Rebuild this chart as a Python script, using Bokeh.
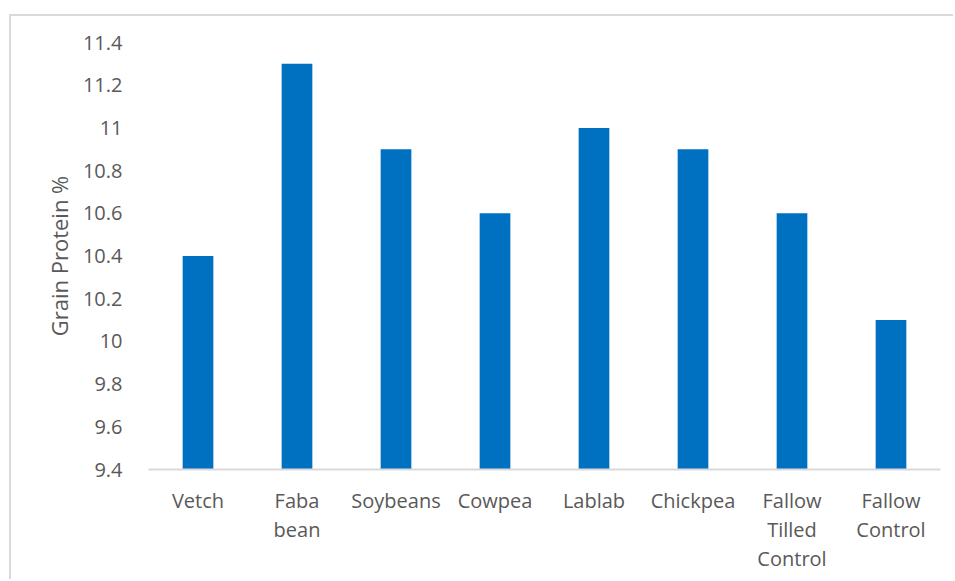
from bokeh.plotting import figure
from bokeh.models import Range1d, FixedTicker, ColumnDataSource, LinearAxis
from bokeh.embed import file_html
from bokeh.resources import INLINE

categories = ["Vetch", "Faba bean", "Soybeans", "Cowpea", "Lablab", "Chickpea",
              "Fallow Tilled Control", "Fallow Control"]
tick_labels = ["Vetch", "Faba\nbean", "Soybeans", "Cowpea", "Lablab", "Chickpea",
               "Fallow\nTilled\nControl", "Fallow\nControl"]
protein = [10.4, 11.3, 10.9, 10.6, 11.0, 10.9, 10.6, 10.1]
y_ticks = [9.4, 9.6, 9.8, 10.0, 10.2, 10.4, 10.6, 10.8, 11.0, 11.2, 11.4]
y_tick_labels = ["9.4", "9.6", "9.8", "10", "10.2", "10.4", "10.6", "10.8", "11", "11.2", "11.4"]

FONT = "Open Sans"
GREY = "#595959"
Y_MIN, Y_MAX = y_ticks[0], y_ticks[-1]

# category positions along a numeric axis
pos = list(range(1, len(categories) + 1))
source = ColumnDataSource(data=dict(x=pos, cat=categories, val=protein))

p = figure(x_range=Range1d(0.5, len(categories) + 0.5), y_range=Range1d(Y_MIN, Y_MAX),
           width=944, height=565, output_backend="svg", toolbar_location=None,
           min_border_left=137, min_border_right=15, min_border_top=26, min_border_bottom=112)
p.margin = (14, 0, 0, 9)
p.styles = {"border-top": "2px solid #d9d9d9", "border-left": "2px solid #d9d9d9"}

p.vbar(x="x", top="val", bottom=Y_MIN, width=0.31, source=source,
       fill_color="#0070c0", line_color=None)

p.outline_line_color = None
p.xgrid.grid_line_color = None
p.ygrid.grid_line_color = None

p.yaxis.ticker = FixedTicker(ticks=y_ticks)
p.yaxis.major_label_overrides = {t: l for t, l in zip(y_ticks, y_tick_labels)}
p.yaxis.axis_line_color = None
p.yaxis.major_tick_line_color = None
p.yaxis.minor_tick_line_color = None
p.yaxis.major_label_standoff = 20
p.yaxis.major_label_text_font = FONT
p.yaxis.major_label_text_font_size = "20px"
p.yaxis.major_label_text_color = GREY
p.yaxis.axis_label = "Grain Protein %"
p.yaxis.axis_label_text_font = FONT
p.yaxis.axis_label_text_font_size = "22px"
p.yaxis.axis_label_text_font_style = "normal"
p.yaxis.axis_label_text_color = GREY
p.yaxis.axis_label_standoff = 6

# split multi-line category labels into one axis per line
lines = [lab.split("\n") for lab in tick_labels]
n_lines = max(len(l) for l in lines)


def style_axis(ax, idx):
    ax.ticker = FixedTicker(ticks=pos)
    ax.minor_tick_line_color = None
    ax.major_tick_line_color = None
    ax.major_label_text_font = FONT
    ax.major_label_text_font_size = "20px"
    ax.major_label_text_color = GREY
    ax.major_label_overrides = {x: (l[idx] if idx < len(l) else " ")
                                for x, l in zip(pos, lines)}


xa = p.xaxis[0]
xa.axis_line_color = "#d9d9d9"
xa.axis_line_width = 2
xa.major_label_standoff = 11
style_axis(xa, 0)

for k in range(1, n_lines):
    ax = LinearAxis(axis_line_color=None, major_label_standoff=-7)
    style_axis(ax, k)
    p.add_layout(ax, "below")

open("out.html", "w").write(file_html(p, INLINE))
